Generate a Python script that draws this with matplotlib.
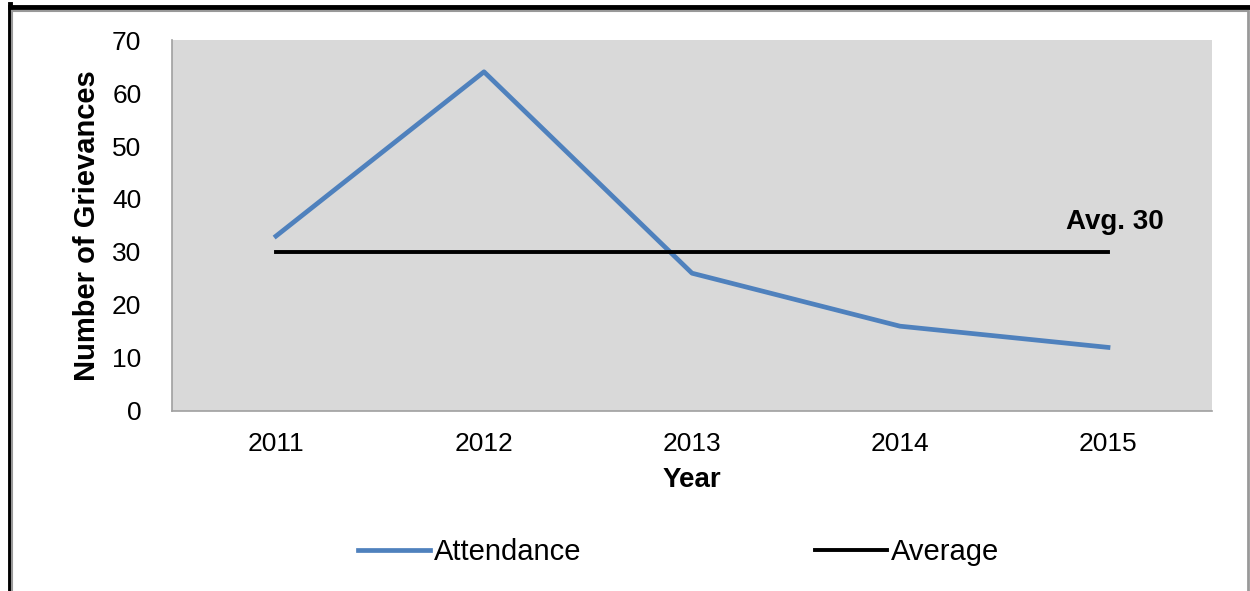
import numpy as np
import matplotlib.pyplot as plt
from matplotlib.lines import Line2D

plt.rcParams['font.family'] = ['Liberation Sans', 'DejaVu Sans']

# Data
years = ["2011", "2012", "2013", "2014", "2015"]
attendance = [33, 64, 26, 16, 12]
average = [30, 30, 30, 30, 30]

fig = plt.figure(figsize=(12.5, 5.91), dpi=100)
ax = fig.add_axes([0.1376, 0.3046, 0.832, 0.6277])
ax.set_facecolor("#d9d9d9")

x = np.arange(len(years))
ax.plot(x, attendance, color="#4f81bd", linewidth=3.4, label="Attendance")
ax.plot(x, average, color="black", linewidth=2.8, label="Average")

ax.text(4.27, 35.7, "Avg. 30", ha="right", va="center", fontsize=20, fontweight="bold")

ax.set_xlim(-0.5, 4.5)
ax.set_ylim(0, 70)
ax.set_xticks(x)
ax.set_xticklabels(years)
ax.set_yticks(range(0, 71, 10))
ax.tick_params(length=0, labelsize=19)
ax.tick_params(axis="x", pad=15)
ax.tick_params(axis="y", pad=22)
for s in ["top", "right"]:
    ax.spines[s].set_visible(False)
for s in ["left", "bottom"]:
    ax.spines[s].set_color("#a0a0a0")
    ax.spines[s].set_linewidth(1.2)

ax.set_xlabel("Year", fontsize=20, fontweight="bold", labelpad=8)
ax.set_ylabel("Number of Grievances", fontsize=21, fontweight="bold", labelpad=8)

fig.legend(loc="center", bbox_to_anchor=(0.543, 0.066), ncol=2, frameon=False,
           fontsize=21, handlelength=2.45, handletextpad=0.15, columnspacing=8.0)

# outer frame
fig.add_artist(Line2D([0.0076, 0.0076], [0, 0.993], color="black", linewidth=3.5))
fig.add_artist(Line2D([0.0098, 0.0098], [0, 0.985], color="#999999", linewidth=1.5))
fig.add_artist(Line2D([0.0076, 1.0], [0.9885, 0.9885], color="black", linewidth=3.5))
fig.add_artist(Line2D([0.0098, 0.998], [0.982, 0.982], color="#999999", linewidth=1.5))
fig.add_artist(Line2D([0.998, 0.998], [0, 0.982], color="#999999", linewidth=2))

fig.savefig("out.png", dpi=100)
